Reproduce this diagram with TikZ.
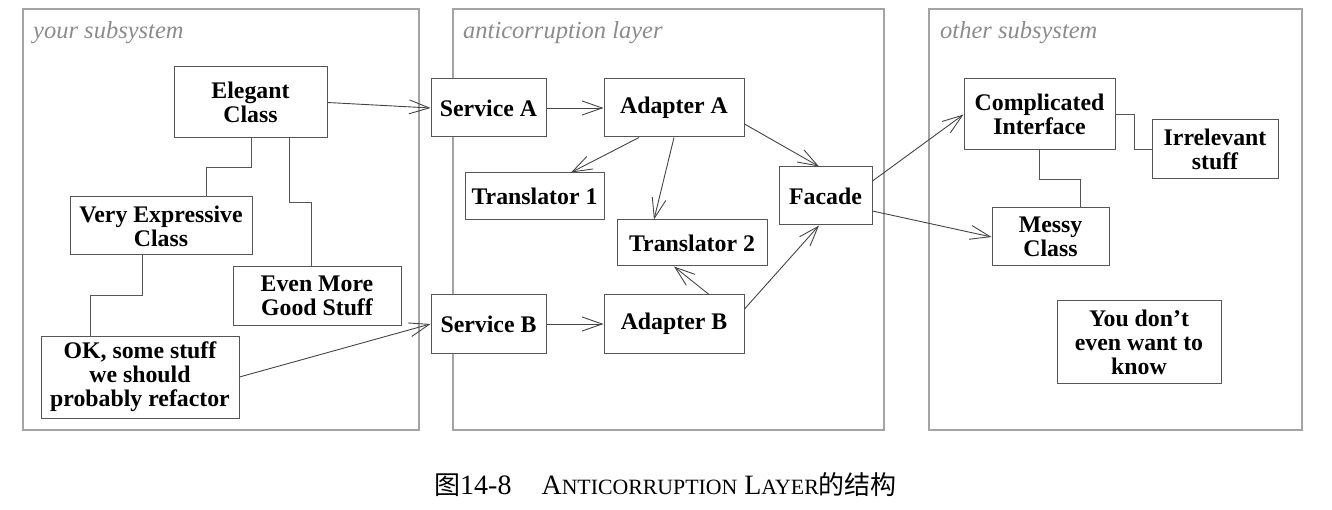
\documentclass[tikz,border=0pt]{standalone}
\usepackage{fontspec}
\setmainfont{Liberation Serif}
\newfontfamily\cjkfont{Noto Sans CJK SC}
\usetikzlibrary{arrows.meta}
\definecolor{framegray}{HTML}{A4A4A4}
\definecolor{labelgray}{HTML}{8C8C8C}
\definecolor{boxgray}{HTML}{555555}
\definecolor{linegray}{HTML}{444444}
\newcommand\fakesc[1]{{\fontsize{21.8}{22}\selectfont #1}}
\newcommand\capcjk[1]{{\cjkfont\fontsize{26}{26}\selectfont #1}}
\tikzset{
  frame/.style={draw=framegray, line width=2pt},
  framelabel/.style={anchor=base west, inner sep=0pt, text=labelgray, font=\itshape\fontsize{24.5}{25}\selectfont},
  box/.style={draw=boxgray, line width=1pt, fill=white, align=center, inner sep=0pt,
    font=\bfseries\fontsize{23.8}{24}\selectfont},
  arr/.style={draw=linegray, line width=0.9pt, -{Straight Barb[length=20pt,width=14pt]}},
  conn/.style={draw=boxgray, line width=0.9pt},
}
\begin{document}
\begin{tikzpicture}[x=1pt,y=-1pt]
\useasboundingbox (0,0) rectangle (1332,510);
% frames
\draw[frame] (23,9) rectangle (419,430);
\draw[frame] (453,9) rectangle (884,430);
\draw[frame] (929,9) rectangle (1302,430);
\node[framelabel] (lyour) at (33,39) {your subsystem};
\node[framelabel] (lacl) at (463,39) {anticorruption layer};
\node[framelabel] (lother) at (940,39) {other subsystem};
% left subsystem
\node[box, minimum width=153pt, minimum height=71pt] (el) at (250.5,102.5) {Elegant\\Class};
\node[box, minimum width=182pt, minimum height=58pt] (ve) at (161,226) {Very Expressive\\Class};
\node[box, minimum width=168pt, minimum height=58pt] (em) at (317,296) {Even More\\Good Stuff};
\node[box, minimum width=198pt, minimum height=82pt] (ok) at (140,377) {OK, some stuff\\we should\\probably refactor};
% anticorruption layer
\node[box, minimum width=115pt, minimum height=58pt] (sa) at (488.5,108) {Service A};
\node[box, minimum width=140pt, minimum height=58pt] (aa) at (674,108) {Adapter A};
\node[box, minimum width=139pt, minimum height=47pt] (t1) at (534.5,196.5) {Translator 1};
\node[box, minimum width=150pt, minimum height=46pt] (t2) at (692,243) {Translator 2};
\node[box, minimum width=93pt, minimum height=58pt] (fa) at (825.5,196) {Facade};
\node[box, minimum width=115pt, minimum height=58pt] (sb) at (488.5,324) {Service B};
\node[box, minimum width=140pt, minimum height=58pt] (ab) at (674,324) {Adapter B};
% other subsystem
\node[box, minimum width=151pt, minimum height=71pt] (ci) at (1039.5,114.5) {Complicated\\Interface};
\node[box, minimum width=126pt, minimum height=59pt] (ir) at (1215,149.5) {Irrelevant\\stuff};
\node[box, minimum width=117pt, minimum height=58pt] (ms) at (1050.5,237) {Messy\\Class};
\node[box, minimum width=164pt, minimum height=82pt] (yd) at (1139,342) {You don’t\\even want to\\know};
% plain connectors
\draw[conn] ([xshift=0.5pt]el.south) -- ++(0,29) -| ([xshift=45pt]ve.north);
\draw[conn] ([xshift=38.5pt]el.south) -- ++(0,64) -| ([xshift=-6pt]em.north);
\draw[conn] ([xshift=-19pt]ve.south) -- ++(0,40) -| ([xshift=-50pt]ok.north);
\draw[conn] (ci.east) -- ++(19,0) |- (ir.west);
\draw[conn] (ci.south) -- ++(0,29) -| ([xshift=29.5pt]ms.north);
% arrows
\draw[arr] (el.east) -- (sa.west);
\draw[arr] (ok.east) -- (sb.west);
\draw[arr] (sa.east) -- (aa.west);
\draw[arr] (sb.east) -- (ab.west);
\draw[arr] ([xshift=-35pt]aa.south) -- ([xshift=36.5pt]t1.north);
\draw[arr] (aa.south) -- ([xshift=-38pt]t2.north);
\draw[arr] ([yshift=-16pt]aa.east) -- ([xshift=-6.5pt]fa.north);
\draw[arr] ([xshift=35pt]ab.north) -- ([xshift=-18pt]t2.south);
\draw[arr] ([yshift=15pt]ab.east) -- ([xshift=-6.5pt]fa.south);
\draw[arr] ([yshift=15pt]fa.east) -- (ci.west);
\draw[arr] ([yshift=-15pt]fa.east) -- (ms.west);
% caption
\node[anchor=base west, inner sep=0pt, font=\fontsize{28}{28}\selectfont] (cap) at (434,494)
  {\capcjk{图}14-8\hspace{30pt}A\fakesc{NTICORRUPTION} L\fakesc{AYER}\capcjk{的结构}};
\end{tikzpicture}
\end{document}
